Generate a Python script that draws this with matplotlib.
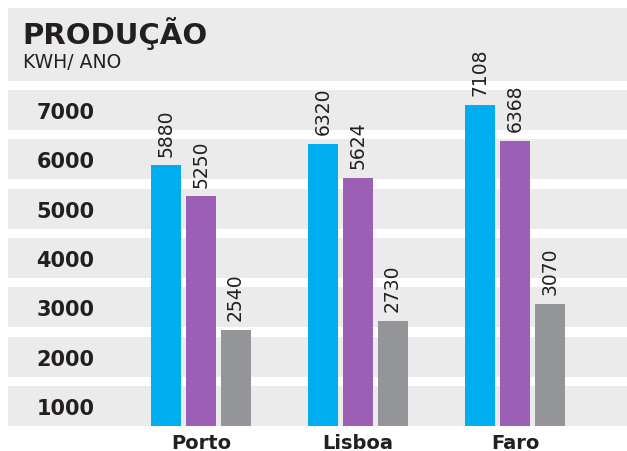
import numpy as np
import matplotlib
matplotlib.use("Agg")
import matplotlib.pyplot as plt
from matplotlib.patches import Rectangle

cities = ["Porto", "Lisboa", "Faro"]
serie_a = [5880, 6320, 7108]
serie_b = [5250, 5624, 6368]
serie_c = [2540, 2730, 3070]
y_ticks = [1000, 2000, 3000, 4000, 5000, 6000, 7000]

colors = ["#00aeef", "#9b5fb6", "#939598"]
band = "#ebebeb"

W, H = 627, 452
fig = plt.figure(figsize=(W / 100, H / 100), dpi=100)
fig.patch.set_facecolor("white")

# title box
fig.patches.append(Rectangle((8 / W, 1 - 82 / H), 1 - 8 / W, 73 / H,
                             transform=fig.transFigure, facecolor=band,
                             edgecolor="none", zorder=-5))
fig.text(22 / W, 1 - 34 / H, "PRODUÇÃO", fontsize=21, fontweight="heavy",
         family="DejaVu Sans", color="#231f20", va="center", ha="left")
fig.text(23 / W, 1 - 62 / H, "KWH/ ANO", fontsize=13.5,
         family="DejaVu Sans", color="#231f20", va="center", ha="left")

ax = fig.add_axes([8 / W, 1 - 427 / H, 1 - 8 / W, 336 / H])
ax.set_facecolor("white")
for s in ax.spines.values():
    s.set_visible(False)

half = 405
for v in y_ticks:
    ax.axhspan(v - half, v + half, color=band, lw=0, zorder=0)

x = np.arange(len(cities))
off = 0.22
w = 0.191
for i, (vals, c) in enumerate(zip([serie_a, serie_b, serie_c], colors)):
    xs = x + (i - 1) * off
    ax.bar(xs, vals, width=w, color=c, zorder=2)
    for xi, v in zip(xs, vals):
        ax.annotate(str(v), (xi, v), xytext=(0, 7), textcoords="offset points",
                    rotation=90, ha="center", va="bottom", fontsize=13.5,
                    color="#231f20", annotation_clip=False)

ax.set_xlim(-1.229, 2.713)
ax.set_ylim(y_ticks[0] - half, y_ticks[-1] + half)

ax.set_yticks(y_ticks, [str(t) for t in y_ticks])
ax.tick_params(axis="y", length=0, pad=-20.5, labelsize=15, labelcolor="#231f20")
for lab in ax.get_yticklabels():
    lab.set_horizontalalignment("left")
    lab.set_fontweight("bold")

ax.set_xticks(x, cities)
ax.tick_params(axis="x", length=0, pad=5, labelsize=14, labelcolor="#231f20")
for lab in ax.get_xticklabels():
    lab.set_fontweight("bold")

fig.savefig("out.png", dpi=100)
